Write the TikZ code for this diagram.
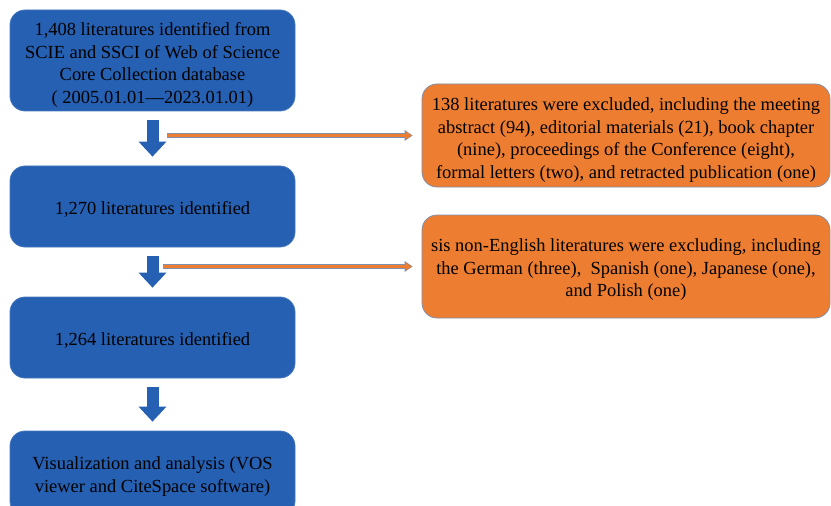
\documentclass[tikz,border=0pt]{standalone}
\usepackage{fontspec}
\setmainfont{Liberation Serif}
\usetikzlibrary{arrows.meta}

\definecolor{boxblue}{RGB}{38,96,178}
\definecolor{blueedge}{RGB}{70,120,190}
\definecolor{exorange}{RGB}{237,125,49}
\definecolor{exedge}{RGB}{128,144,172}

\begin{document}
\begin{tikzpicture}[x=0.75pt, y=-0.75pt,
    every node/.style={font=\fontsize{13.85}{17}\selectfont, align=center, inner sep=0pt},
    stage/.style={draw=blueedge, line width=0.6pt, fill=boxblue, rounded corners=11.25pt,
      minimum width=213.75pt, minimum height=60.75pt},
    excl/.style={draw=exedge, line width=0.6pt, fill=exorange, rounded corners=11.25pt,
      minimum width=306pt, minimum height=77.25pt},
    flow/.style={draw=boxblue, line width=9pt, shorten <=6.75pt, shorten >=6.75pt,
      -{Triangle[width=21pt, length=11.25pt, line width=0pt]}},
    outline/.style={draw=exedge, line width=3.75pt, shorten >=6.75pt,
      -{Triangle[width=8.25pt, length=6pt, line width=0pt]}},
    inline/.style={draw=exorange, line width=2.25pt, shorten >=7.5pt,
      -{Triangle[width=6pt, length=4.5pt, line width=0pt]}}]
  \def\up{\rule{0pt}{14.5pt}}
  \def\upp{\rule{0pt}{16.5pt}}

  \useasboundingbox (0,0) rectangle (831,506);

  % left column
  \node[stage, minimum height=75.75pt] (found) at (152.5,60.5)
    {\upp 1,408 literatures identified from\\SCIE and SSCI of Web of Science\\Core Collection database\\( 2005.01.01—2023.01.01)};
  \node[stage] (first) at (152.5,206.5) {\up 1,270 literatures identified};
  \node[stage] (second) at (152.5,337.5) {\up 1,264 literatures identified};
  \node[stage, minimum height=63.75pt] (final) at (152.5,473.5)
    {\up Visualization and analysis (VOS\\viewer and CiteSpace software)};

  % right column
  \node[excl] (drop1) at (626,135.5)
    {\upp 138 literatures were excluded, including the meeting\\abstract (94), editorial materials (21), book chapter\\(nine), proceedings of the Conference (eight),\\formal letters (two), and retracted publication (one)};
  \node[excl] (drop2) at (626,266.5)
    {\up sis non-English literatures were excluding, including\\the German (three), \ Spanish (one), Japanese (one),\\and Polish (one)};

  % block arrows
  \draw[flow] (found.south) -- (first.north);
  \draw[flow] (first.south) -- (second.north);
  \draw[flow] (second.south) -- (final.north);

  % side arrows
  \coordinate (from1) at (167,135.5);
  \coordinate (from2) at (163,266.5);
  \foreach \s/\t in {from1/drop1, from2/drop2} {
    \draw[outline] (\s) -- (\t.west);
    \draw[inline] (\s) -- (\t.west);
  }
\end{tikzpicture}
\end{document}
